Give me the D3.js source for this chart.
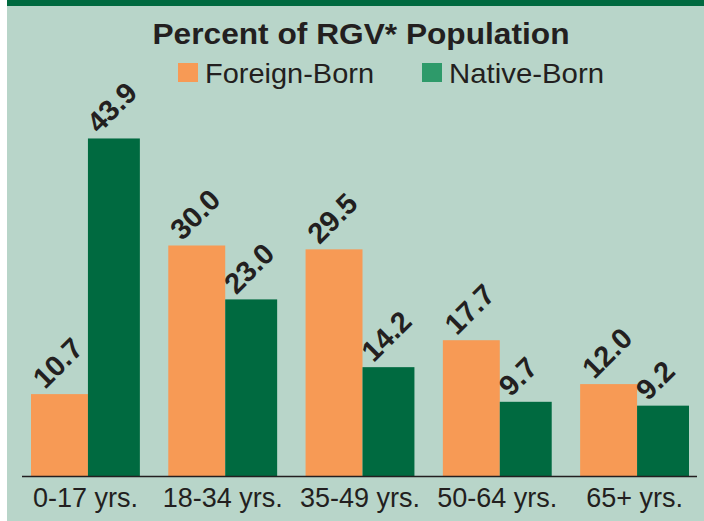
<!DOCTYPE html>
<html>
<head>
<meta charset="utf-8">
<script src="https://cdn.jsdelivr.net/npm/d3@7"></script>
<style>
  body { margin: 0; background: #fff; }
  svg { display: block; font-family: "Liberation Sans", Arial, sans-serif; }
</style>
</head>
<body>
<script>
// data
var ageGroups = ["0-17 yrs.", "18-34 yrs.", "35-49 yrs.", "50-64 yrs.", "65+ yrs."];
var foreignBorn = [10.7, 30.0, 29.5, 17.7, 12.0];
var nativeBorn = [43.9, 23.0, 14.2, 9.7, 9.2];
var seriesNames = ["Foreign-Born", "Native-Born"];

var W = 704, H = 521;
var barColor = {"Foreign-Born": "#f79a55", "Native-Born": "#006a40"};
var keyColor = {"Foreign-Born": "#f79a55", "Native-Born": "#2e9a6a"};

var svg = d3.select("body").append("svg")
    .attr("width", W)
    .attr("height", H);

// panel + top stripe
svg.append("rect").attr("x", 7).attr("y", 0).attr("width", W - 7).attr("height", H).attr("fill", "#b8d5c9");
svg.append("rect").attr("x", 7).attr("y", 0).attr("width", W - 7).attr("height", 6).attr("fill", "#006a40");

// title
svg.append("text")
    .attr("x", 361).attr("y", 44)
    .attr("text-anchor", "middle")
    .attr("font-size", 30)
    .attr("font-weight", "bold")
    .attr("fill", "#231f20")
    .attr("textLength", 417)
    .attr("lengthAdjust", "spacingAndGlyphs")
    .text("Percent of RGV* Population");

// legend
var legendX = [178, 422];
var legendLen = [169, 155];
var legend = svg.append("g").selectAll("g")
    .data(seriesNames)
  .enter().append("g")
    .attr("transform", function(d, i) { return "translate(" + legendX[i] + ",63)"; });
legend.append("rect")
    .attr("width", 20).attr("height", 19)
    .attr("fill", function(d) { return keyColor[d]; });
legend.append("text")
    .attr("x", 27).attr("y", 20)
    .attr("font-size", 28)
    .attr("fill", "#231f20")
    .attr("textLength", function(d, i) { return legendLen[i]; })
    .attr("lengthAdjust", "spacingAndGlyphs")
    .text(function(d) { return d; });

// scales
var x0 = d3.scaleBand()
    .domain(ageGroups)
    .range([31, 689])
    .paddingInner(0.207)
    .paddingOuter(0);

var split = 0.523; // orange bar is a touch wider than green
var x1 = d3.scaleOrdinal()
    .domain(seriesNames)
    .range([0, split]);

var y = d3.scaleLinear()
    .domain([0, 45])
    .range([476.5, 130]);

var rows = ageGroups.map(function(g, i) {
  return {group: g, values: [
    {key: "Foreign-Born", value: foreignBorn[i]},
    {key: "Native-Born", value: nativeBorn[i]}
  ]};
});

function barX(d) { return x0(d.group) + x1(d.key) * x0.bandwidth(); }
function barW(d) { return (d.key === "Foreign-Born" ? split : 1 - split) * x0.bandwidth(); }
function cells(r) { return r.values.map(function(v) { return Object.assign({group: r.group}, v); }); }

var group = svg.append("g").selectAll("g")
    .data(rows)
  .enter().append("g");

group.selectAll("rect")
    .data(cells)
  .enter().append("rect")
    .attr("x", barX)
    .attr("y", function(d) { return y(d.value); })
    .attr("width", barW)
    .attr("height", function(d) { return y(0) - y(d.value); })
    .attr("fill", function(d) { return barColor[d.key]; });

// rotated value labels
group.selectAll("text")
    .data(cells)
  .enter().append("text")
    .attr("transform", function(d) {
      var tx = barX(d) + (d.key === "Foreign-Born" ? 14 : 11);
      var ty = y(d.value) - 4;
      return "translate(" + tx + "," + ty + ") rotate(-45)";
    })
    .attr("font-size", 29)
    .attr("font-weight", "bold")
    .attr("fill", "#231f20")
    .text(function(d) { return d.value.toFixed(1); });

// x axis
var xAxis = svg.append("g")
    .attr("transform", "translate(0," + y(0) + ")")
    .call(d3.axisBottom(x0).tickSize(0).tickPadding(11));
xAxis.select(".domain").remove();
xAxis.selectAll("text")
    .attr("font-size", 27)
    .attr("font-family", "Liberation Sans, Arial, sans-serif")
    .attr("fill", "#231f20");
svg.append("line")
    .attr("x1", 22).attr("x2", 697)
    .attr("y1", y(0)).attr("y2", y(0))
    .attr("stroke", "#231f20")
    .attr("stroke-width", 1.5);
</script>
</body>
</html>
